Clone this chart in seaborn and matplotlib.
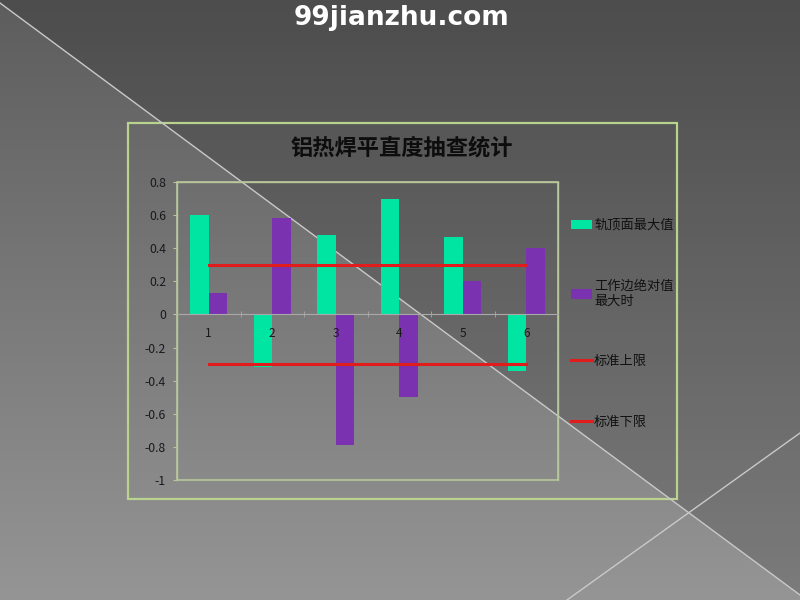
import numpy as np
import pandas as pd
import matplotlib
matplotlib.use("Agg")
import matplotlib.pyplot as plt
import seaborn as sns
from matplotlib.patches import Rectangle, Polygon, Patch
from matplotlib.lines import Line2D
from matplotlib.colors import LinearSegmentedColormap

plt.rcParams['font.family'] = ['Noto Sans CJK SC', 'DejaVu Sans']

# data
points = ["1", "2", "3", "4", "5", "6"]
rail_top_max = [0.60, -0.32, 0.48, 0.70, 0.47, -0.34]
gauge_side_max = [0.13, 0.58, -0.79, -0.50, 0.20, 0.40]
upper_limit = [0.3, 0.3, 0.3, 0.3, 0.3, 0.3]
lower_limit = [-0.3, -0.3, -0.3, -0.3, -0.3, -0.3]
series_names = ["轨顶面最大值", "工作边绝对值\n最大时", "标准上限", "标准下限"]
y_ticks = [0.8, 0.6, 0.4, 0.2, 0, -0.2, -0.4, -0.6, -0.8, -1]
y_tick_labels = ["0.8", "0.6", "0.4", "0.2", "0", "-0.2", "-0.4", "-0.6", "-0.8", "-1"]

green = "#00e6a2"
purple = "#7a32b0"
red = "#e01c1c"
frame_col = "#b9d28e"
border_col = "#b8c69c"

df = pd.DataFrame({
    "点号": points * 2,
    "值": rail_top_max + gauge_side_max,
    "系列": [series_names[0]] * 6 + [series_names[1]] * 6,
})

fig = plt.figure(figsize=(8, 6), dpi=100)

# slide background
bg = fig.add_axes([0, 0, 1, 1], zorder=-10)
grad = np.linspace(0, 1, 256).reshape(-1, 1)
cmap = LinearSegmentedColormap.from_list("bg", ["#5d5d5d", "#959595"])
bg.imshow(grad, extent=[0, 800, 600, 0], cmap=cmap, aspect="auto")
bg.add_patch(Polygon([(0, 0), (0, 3), (800, 595), (800, 0)], closed=True,
                     facecolor="black", alpha=0.17, edgecolor="none"))
bg.plot([0, 800], [3, 595], color="#c9c9c9", lw=1)
bg.plot([800, 567], [433, 600], color="#c9c9c9", lw=1)
bg.add_patch(Rectangle((128, 123), 549, 376, fill=False, edgecolor=frame_col, lw=1.6))
bg.set_xlim(0, 800)
bg.set_ylim(600, 0)
bg.axis("off")

fig.text(0.5025, 1 - 18 / 600, "99jianzhu.com", ha="center", va="center",
         color="white", fontsize=19, fontweight="bold", family="DejaVu Sans")
fig.text(402 / 800, 1 - 148 / 600, "铝热焊平直度抽查统计", ha="center", va="center",
         color="#0d0d0d", fontsize=16, fontweight="bold")

ax = fig.add_axes([177 / 800, 120 / 600, 381 / 800, 298 / 600])
ax.set_facecolor("none")

sns.barplot(data=df, x="点号", y="值", hue="系列", palette=[green, purple],
            width=0.58, saturation=1, legend=False, ax=ax)
pos = np.arange(len(points))
sns.lineplot(x=pos, y=upper_limit, color=red, lw=2.2, ax=ax)
sns.lineplot(x=pos, y=lower_limit, color=red, lw=2.2, ax=ax)

ax.set_xlim(-0.5, 5.5)
ax.set_ylim(-1, 0.8)
ax.set_yticks(y_ticks)
ax.set_yticklabels(y_tick_labels)
ax.set_xlabel("")
ax.set_ylabel("")

for s in ["top", "left", "right"]:
    ax.spines[s].set_color(border_col)
    ax.spines[s].set_linewidth(1)
ax.spines["bottom"].set_position(("data", 0))
ax.spines["bottom"].set_color("#a9a9a9")
ax.spines["bottom"].set_linewidth(0.8)
ax.add_patch(Rectangle((0, 0), 1, 1, transform=ax.transAxes, fill=False,
                       edgecolor=border_col, lw=1.2, clip_on=False))

ax.set_xticks(np.arange(-0.5, 6, 1), minor=True)
ax.tick_params(axis="x", which="major", length=0, pad=9, labelsize=8.5, labelcolor="#1a1a1a")
ax.tick_params(axis="x", which="minor", length=4, direction="inout", color="#a9a9a9")
ax.tick_params(axis="y", length=3, color=border_col, pad=5, labelsize=8.8, labelcolor="#1a1a1a")

handles = [Patch(facecolor=green), Patch(facecolor=purple),
           Line2D([], [], color=red, lw=2.2), Line2D([], [], color=red, lw=2.2)]
fig.legend(handles, series_names, loc="upper left", bbox_to_anchor=(571 / 800, 1 - 219 / 600),
           frameon=False, fontsize=9.5, labelcolor="#111111", handlelength=1.6,
           handletextpad=0.15, labelspacing=3.6, borderaxespad=0, borderpad=0)

fig.savefig("out.png", dpi=100)
